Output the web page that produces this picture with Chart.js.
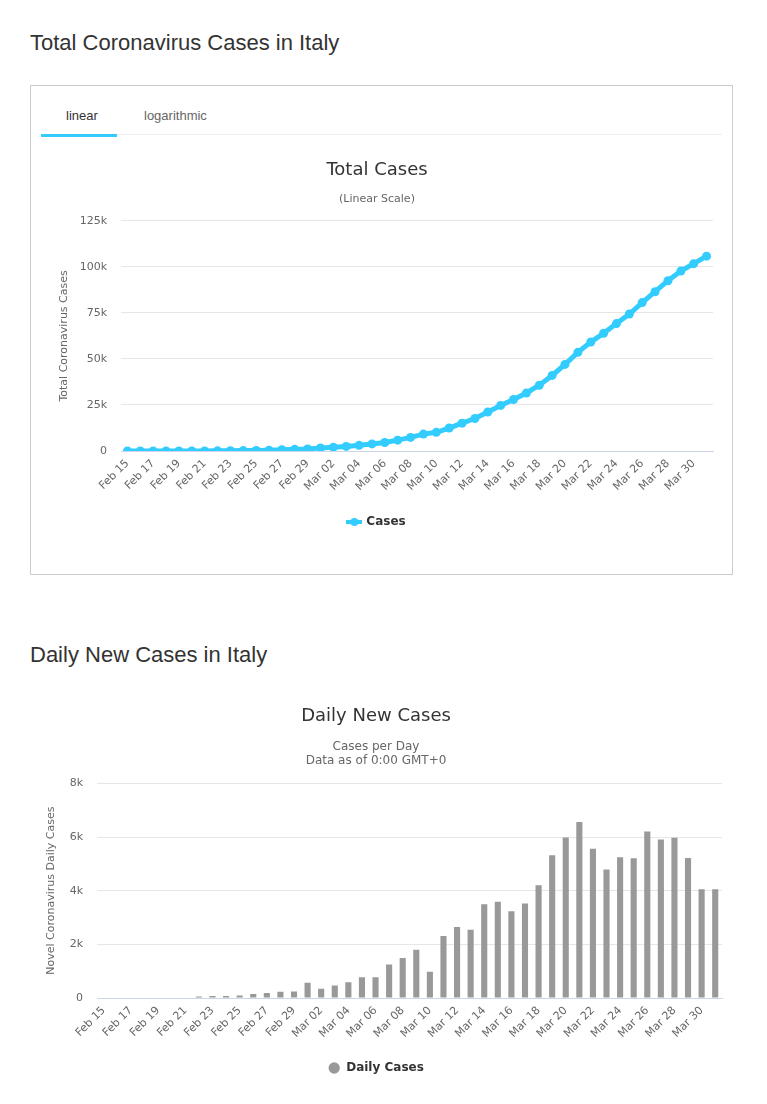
<!DOCTYPE html>
<html>
<head>
<meta charset="utf-8">
<script src="https://cdn.jsdelivr.net/npm/chart.js@4.4.1/dist/chart.umd.min.js"></script>
<style>
  body { margin: 0; background: #fff; width: 767px; height: 1104px; position: relative; overflow: hidden; }
  h2 { position: absolute; left: 30px; margin: 0; font: 22px "Liberation Sans", Arial, sans-serif; color: #333; line-height: 26px; }
  #box { position: absolute; left: 30px; top: 85px; width: 701px; height: 488px; border: 1px solid #ccc; }
  .tabs { position: absolute; left: 10px; top: 48px; width: 681px; border-bottom: 1px solid #eee; }
  .tab { position: absolute; top: -26px; font: 13px "Liberation Sans", Arial, sans-serif; color: #666; }
  #tabLine { position: absolute; left: 10px; top: 48px; width: 76px; height: 3px; background: #33ccff; }
  canvas { position: absolute; }
</style>
</head>
<body>
<h2 style="top:30px">Total Coronavirus Cases in Italy</h2>
<div id="box">
  <div class="tabs">
    <span class="tab" style="left:25px;color:#333">linear</span>
    <span class="tab" style="left:103px">logarithmic</span>
  </div>
  <div id="tabLine"></div>
</div>
<canvas id="totalChart" style="left:41px;top:145px;width:682px;height:410px"></canvas>

<h2 style="top:642px">Daily New Cases in Italy</h2>
<canvas id="dailyChart" style="left:30px;top:695px;width:710px;height:395px"></canvas>

<script>
// dates Feb 15 .. Mar 31
const dates = ["Feb 15","Feb 16","Feb 17","Feb 18","Feb 19","Feb 20","Feb 21","Feb 22","Feb 23","Feb 24",
  "Feb 25","Feb 26","Feb 27","Feb 28","Feb 29","Mar 01","Mar 02","Mar 03","Mar 04","Mar 05",
  "Mar 06","Mar 07","Mar 08","Mar 09","Mar 10","Mar 11","Mar 12","Mar 13","Mar 14","Mar 15",
  "Mar 16","Mar 17","Mar 18","Mar 19","Mar 20","Mar 21","Mar 22","Mar 23","Mar 24","Mar 25",
  "Mar 26","Mar 27","Mar 28","Mar 29","Mar 30","Mar 31"];

const totalCases = [3, 3, 3, 3, 3, 3, 20, 79, 157, 229,
  323, 470, 655, 889, 1128, 1694, 2036, 2502, 3089, 3858,
  4636, 5883, 7375, 9172, 10149, 12462, 15113, 17660, 21157, 24747,
  27980, 31506, 35713, 41035, 47021, 53578, 59138, 63927, 69176, 74386,
  80589, 86498, 92472, 97689, 101739, 105792];

const dailyCases = [0, 0, 0, 0, 0, 0, 17, 59, 78, 72,
  94, 147, 185, 234, 239, 566, 342, 466, 587, 769,
  778, 1247, 1492, 1797, 977, 2313, 2651, 2547, 3497, 3590,
  3233, 3526, 4207, 5322, 5986, 6557, 5560, 4789, 5249, 5210,
  6203, 5909, 5974, 5217, 4050, 4053];

const totalTicks = [0, 25000, 50000, 75000, 100000, 125000];
const dailyTicks = [0, 2000, 4000, 6000, 8000];

const FONT = "'DejaVu Sans', sans-serif";
const BLUE = "#33ccff";

function kLabel(v) { return v === 0 ? "0" : (v / 1000) + "k"; }
function everyOther(val, i) { return i % 2 === 0 ? this.getLabelForValue(val) : ""; }

// legend marker: line with a dot, like the original
const lineMark = document.createElement("canvas");
lineMark.width = 16; lineMark.height = 10;
(function () {
  const c = lineMark.getContext("2d");
  c.strokeStyle = BLUE; c.lineWidth = 4;
  c.beginPath(); c.moveTo(0, 5); c.lineTo(16, 5); c.stroke();
  c.fillStyle = BLUE; c.beginPath(); c.arc(8, 5, 4, 0, Math.PI * 2); c.fill();
})();

function xAxis(height) {
  return {
    offset: true,
    grid: { display: false, drawTicks: false },
    border: { color: "#ccd6eb" },
    ticks: { autoSkip: false, maxRotation: 45, minRotation: 45, padding: 6,
      color: "#666", font: { family: FONT, size: 11 }, callback: everyOther },
    afterFit: s => { s.height = height; }
  };
}

function yAxis(title, ticks, width, titlePad) {
  return {
    min: ticks[0], max: ticks[ticks.length - 1],
    afterBuildTicks: s => { s.ticks = ticks.map(v => ({ value: v })); },
    grid: { color: "#e6e6e6", drawTicks: false },
    border: { display: false },
    ticks: { padding: 14, color: "#666", font: { family: FONT, size: 11 }, callback: kLabel },
    title: { display: true, text: title, color: "#666", font: { family: FONT, size: 11 }, padding: { top: titlePad, bottom: 0 } },
    afterFit: s => { s.width = width; }
  };
}

new Chart(document.getElementById("totalChart"), {
  type: "line",
  data: {
    labels: dates,
    datasets: [{
      label: "Cases",
      data: totalCases,
      borderColor: BLUE, backgroundColor: BLUE,
      borderWidth: 5, pointRadius: 4.5, pointBackgroundColor: BLUE, pointBorderWidth: 0,
      pointStyle: "circle", tension: 0
    }]
  },
  options: {
    responsive: false, animation: false,
    layout: { padding: { left: 0, right: 10, top: 0, bottom: 17 } },
    plugins: {
      title: { display: true, text: "Total Cases", color: "#333", font: { family: FONT, size: 18, weight: "normal" }, padding: { top: 15, bottom: 11 } },
      subtitle: { display: true, text: "(Linear Scale)", color: "#666", font: { family: FONT, size: 11 }, padding: { top: 0, bottom: 15 } },
      legend: { position: "bottom", labels: { usePointStyle: true, pointStyle: lineMark, padding: 10, color: "#333",
        font: { family: FONT, size: 12, weight: "bold" },
        generateLabels: ch => [{ text: "Cases", pointStyle: lineMark, fontColor: "#333", datasetIndex: 0, lineWidth: 0 }] } },
      tooltip: { enabled: false }
    },
    scales: {
      x: xAxis(55),
      y: yAxis("Total Coronavirus Cases", totalTicks, 80, 17)
    }
  }
});

new Chart(document.getElementById("dailyChart"), {
  type: "bar",
  data: {
    labels: dates,
    datasets: [{
      label: "Daily Cases",
      data: dailyCases,
      backgroundColor: "#999999",
      categoryPercentage: 1, barPercentage: 0.45
    }]
  },
  options: {
    responsive: false, animation: false,
    layout: { padding: { left: 0, right: 18, top: 0, bottom: 6 } },
    plugins: {
      title: { display: true, text: "Daily New Cases", color: "#333", font: { family: FONT, size: 18, weight: "normal" }, padding: { top: 11, bottom: 12 } },
      subtitle: { display: true, text: ["Cases per Day", "Data as of 0:00 GMT+0"], color: "#666", font: { family: FONT, size: 12 }, padding: { top: 0, bottom: 15 } },
      legend: { position: "bottom", labels: { usePointStyle: true, pointStyle: "circle", boxHeight: 8, padding: 10, color: "#333",
        font: { family: FONT, size: 12, weight: "bold" } } },
      tooltip: { enabled: false }
    },
    scales: {
      x: xAxis(54),
      y: yAxis("Novel Coronavirus Daily Cases", dailyTicks, 67, 15)
    }
  }
});
</script>
</body>
</html>
